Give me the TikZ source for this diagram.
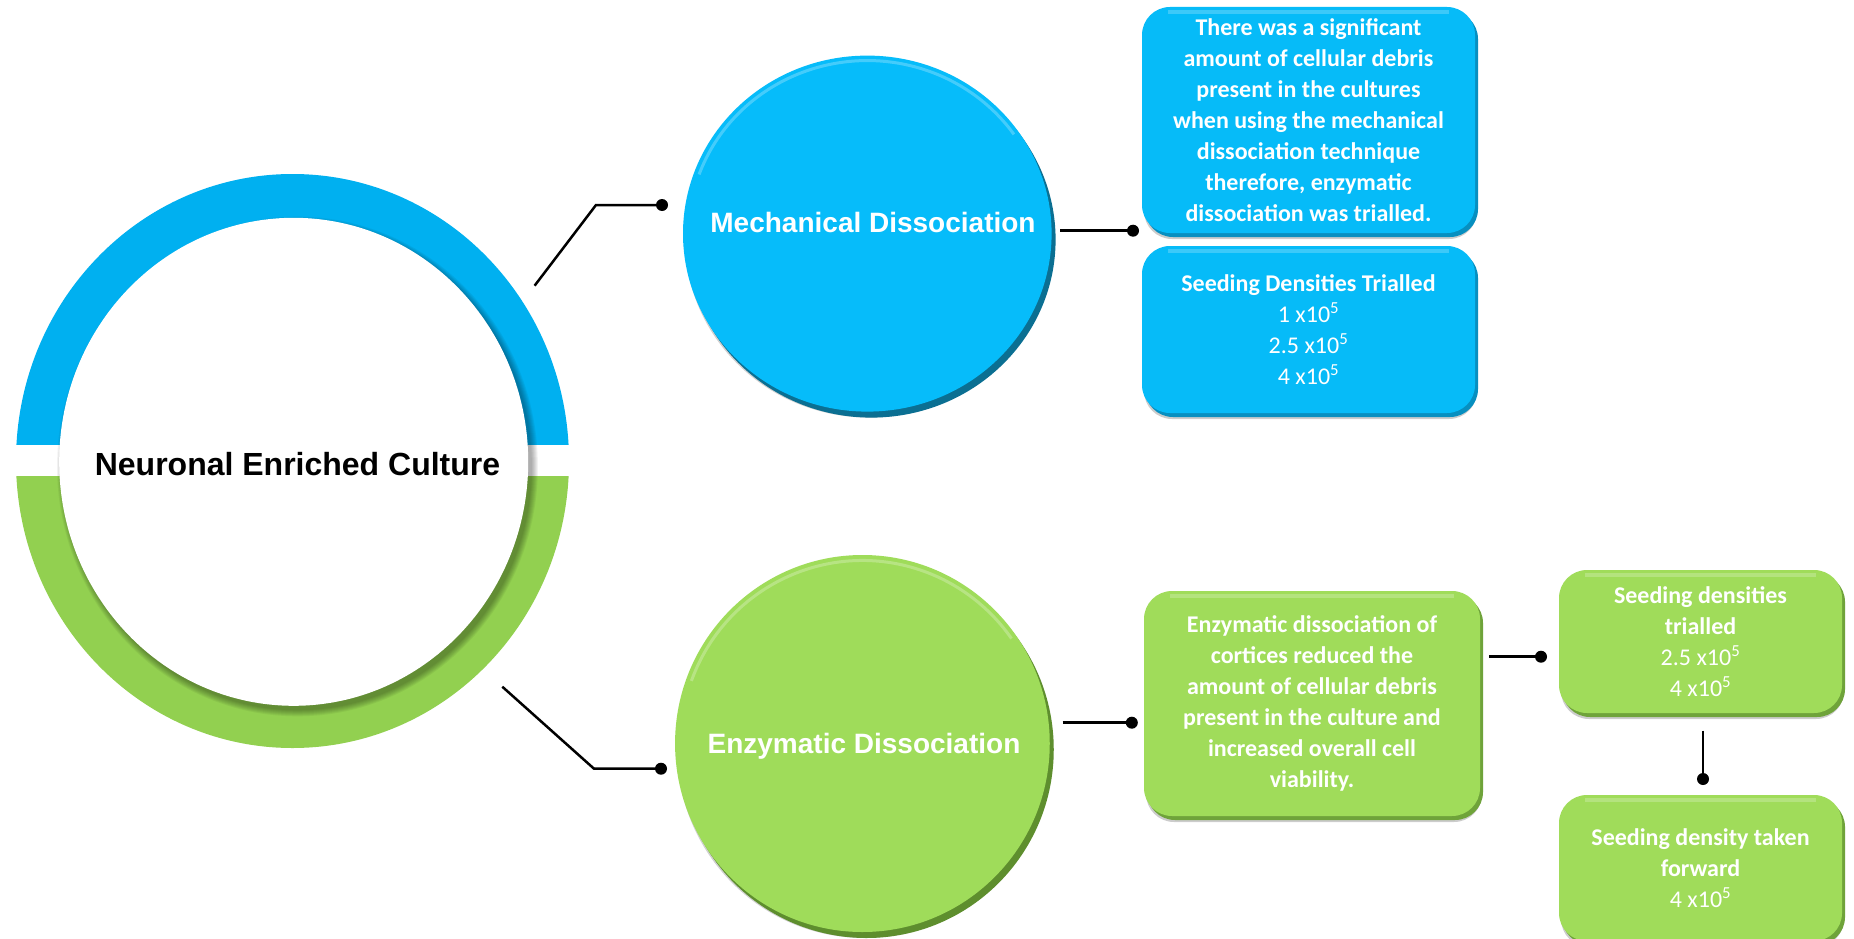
\documentclass[tikz,border=0pt]{standalone}
\usepackage{fontspec}
\setmainfont{Liberation Sans}
\newfontfamily\boxfont{Carlito}
\usetikzlibrary{shapes.geometric,shadows}
\definecolor{ringblue}{HTML}{00B0F0}
\definecolor{ringgreen}{HTML}{92D050}
\definecolor{ellblue}{HTML}{06BCFA}
\definecolor{ellbluedark}{HTML}{0B6F92}
\definecolor{boxblue}{HTML}{06BBF8}
\definecolor{boxbluedark}{HTML}{078FC0}
\definecolor{ellgreen}{HTML}{9FDC5A}
\definecolor{ellgreendark}{HTML}{5E8E2E}
\definecolor{boxgreen}{HTML}{A0DC5A}
\definecolor{boxgreendark}{HTML}{6FA33A}
\begin{document}
\begin{tikzpicture}[x=1pt,y=-1pt,
  conn/.style={line width=2.5pt, black},
  enddot/.style={fill=black},
  bigell/.style={ellipse, inner sep=0pt},
  ellblueshape/.style={bigell, fill=ellblue,
     drop shadow={shadow xshift=2pt, shadow yshift=-6pt, opacity=.18, fill=black},
     general shadow={shadow xshift=4pt, shadow yshift=-6pt, fill=ellbluedark}},
  ellgreenshape/.style={bigell, fill=ellgreen,
     drop shadow={shadow xshift=2pt, shadow yshift=-6pt, opacity=.18, fill=black},
     general shadow={shadow xshift=4pt, shadow yshift=-6pt, fill=ellgreendark}},
  elltext/.style={text=white, font=\fontsize{28}{32}\selectfont\bfseries},
  boxbase/.style={rounded corners=28pt, inner sep=0pt, align=center, text=white,
     font=\boxfont\fontsize{24}{31}\selectfont,
     path picture={\draw[white, opacity=.22, line width=4pt]
       ([xshift=26pt,yshift=-5pt]path picture bounding box.north west) --
       ([xshift=-26pt,yshift=-5pt]path picture bounding box.north east);}},
  boxblueshape/.style={boxbase, fill=boxblue,
     drop shadow={shadow xshift=2pt, shadow yshift=-6pt, opacity=.2, fill=black},
     general shadow={shadow xshift=3pt, shadow yshift=-4pt, fill=boxbluedark}},
  boxgreenshape/.style={boxbase, fill=boxgreen,
     drop shadow={shadow xshift=2pt, shadow yshift=-6pt, opacity=.2, fill=black},
     general shadow={shadow xshift=3pt, shadow yshift=-4pt, fill=boxgreendark}},
  hl/.style={white, opacity=.25, line width=3pt}
]
\useasboundingbox (0,0) rectangle (1854,939);
\fill[white] (0,0) rectangle (1854,939);
\clip (0,0) rectangle (1854,939);

% outer ring halves
\begin{scope}
  \clip (0,0) rectangle (1854,444.6);
  \fill[ringblue] (292.5,461) ellipse [x radius=276.5, y radius=287];
\end{scope}
\begin{scope}
  \clip (0,476.6) rectangle (1854,939);
  \fill[ringgreen] (292.5,461) ellipse [x radius=276.5, y radius=287];
\end{scope}
% soft shadow of the white core
\foreach \k in {0,...,6} {
  \fill[black, opacity=.05] (297.5,466.5) ellipse [x radius={240.4-\k}, y radius={249.8-\k}];
}
\node[bigell, fill=white, minimum width=469, minimum height=488] (core) at (293.7,461.8) {};
\node[font=\fontsize{32}{38}\selectfont\bfseries] (corelabel) at (297.5,464) {Neuronal Enriched Culture};

% dissociation ellipses
\node[ellblueshape, minimum width=368.6, minimum height=356] (mech) at (867.3,233.6) {};
\draw[hl] (mech.center) ++(-160:179 and 173) arc [start angle=-160, end angle=-35, x radius=179, y radius=173];
\node[elltext] (mechlabel) at (873,222) {Mechanical Dissociation};

\node[ellgreenshape, minimum width=374.7, minimum height=377] (enz) at (862.4,743.5) {};
\draw[hl] (enz.center) ++(-160:182 and 183) arc [start angle=-160, end angle=-35, x radius=182, y radius=183];
\node[elltext] (enzlabel) at (864,746.7) {Enzymatic Dissociation};

% boxes
\node[boxblueshape, minimum width=333, minimum height=226] (b1) at (1308.5,120)
  {\bfseries There was a significant\\\bfseries amount of cellular debris\\\bfseries present in the cultures\\\bfseries when using the mechanical\\\bfseries dissociation technique\\\bfseries therefore, enzymatic\\\bfseries dissociation was trialled.};
\node[boxblueshape, minimum width=333, minimum height=167] (b2) at (1308.5,329.5)
  {\bfseries Seeding Densities Trialled\\1 x10\textsuperscript{5}\\2.5 x10\textsuperscript{5}\\4 x10\textsuperscript{5}};
\node[boxgreenshape, minimum width=336, minimum height=225] (g1) at (1312,703.5)
  {\bfseries Enzymatic dissociation of\\\bfseries cortices reduced the\\\bfseries amount of cellular debris\\\bfseries present in the culture and\\\bfseries increased overall cell\\\bfseries viability.};
\node[boxgreenshape, minimum width=283, minimum height=143] (g2) at (1700.5,641.5)
  {\bfseries Seeding densities\\\bfseries trialled\\2.5 x10\textsuperscript{5}\\4 x10\textsuperscript{5}};
\node[boxgreenshape, minimum width=283, minimum height=146] (g3) at (1700.5,868)
  {\bfseries Seeding density taken\\\bfseries forward\\4 x10\textsuperscript{5}};

% connectors
\coordinate (u0) at (534.6,285.7);
\coordinate (u1) at (596,205);
\coordinate (u2) at (662,205);
\draw[conn] (u0) -- (u1) -- (u2);
\fill[enddot] (u2) circle (6);

\coordinate (l0) at (502.3,686.7);
\coordinate (l1) at (594,768.7);
\coordinate (l2) at (661,768.7);
\draw[conn] (l0) -- (l1) -- (l2);
\fill[enddot] (l2) circle (6);

\coordinate (m0) at (1060,230.7);
\coordinate (m1) at (1133,230.7);
\draw[conn] (m0) -- (m1);
\fill[enddot] (m1) circle (6);

\coordinate (e0) at (1062.6,722.7);
\coordinate (e1) at (1131.8,722.7);
\draw[conn] (e0) -- (e1);
\fill[enddot] (e1) circle (6);

\coordinate (s0) at (1489,656.7);
\coordinate (s1) at (1541,656.7);
\draw[conn] (s0) -- (s1);
\fill[enddot] (s1) circle (6);

\coordinate (t0) at (1703,730.7);
\coordinate (t1) at (1703,779);
\draw[conn] (t0) -- (t1);
\fill[enddot] (t1) circle (6);
\end{tikzpicture}
\end{document}
